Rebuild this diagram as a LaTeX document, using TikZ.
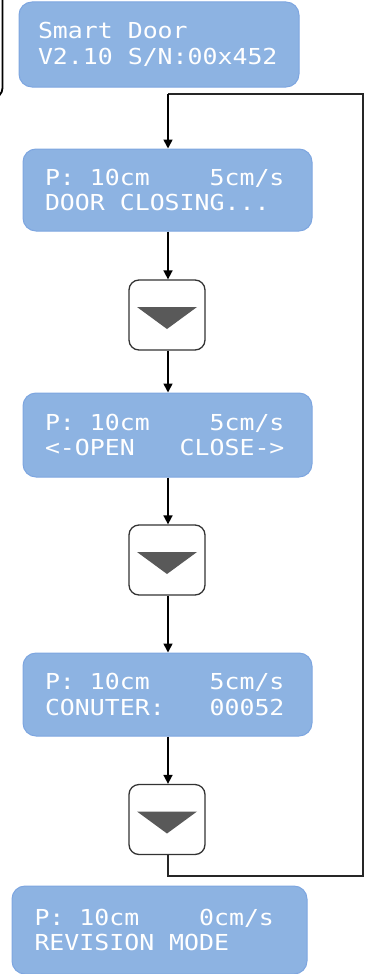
\documentclass[tikz,border=0pt]{standalone}
\usepackage{fontspec}
\newfontfamily\lcdfont[FakeStretch=1.13]{DejaVu Sans Mono}
\newcommand{\ls}{\hspace*{\fontcharwd\font`\0}}
\usetikzlibrary{arrows.meta,calc}
\definecolor{lcdfill}{HTML}{8DB3E2}
\definecolor{lcdline}{HTML}{7EA6E0}
\definecolor{btnline}{HTML}{333333}
\definecolor{trifill}{HTML}{595959}
\tikzset{
  lcd/.style={draw=lcdline, fill=lcdfill, line width=1pt, rounded corners=13pt,
    text=white, font=\lcdfont\fontsize{22}{25.5}\selectfont, align=left,
    inner ysep=0pt, anchor=center},
  btn/.style={draw=btnline, fill=white, line width=1.3pt, rounded corners=10pt,
    minimum width=76pt, minimum height=70pt, inner sep=0pt},
  tri/.style={fill=trifill},
  arr/.style={draw=black, line width=1.7pt, -{Triangle[length=9pt,width=9pt]}},
  loopline/.style={draw=black!85, line width=1.3pt},
  frameline/.style={draw=black, line width=1.8pt, rounded corners=10pt}
}
\begin{document}
\begin{tikzpicture}[x=1pt,y=-1pt]
\useasboundingbox (0,0) rectangle (366,974);
\clip (0,0) rectangle (366,974);
% partial frame at top left
\draw[frameline] (2.5,-5) -- (2.5,98) -- (-12,98);
% LCD boxes
\node[lcd, minimum width=278pt, minimum height=85pt, text width=242pt, inner xsep=19pt] (s1) at (159,44.5)
  {Smart\ls Door\\V2.10\ls S/N:00x452};
\node[lcd, minimum width=289pt, minimum height=82pt, text width=245pt, inner xsep=22pt] (s2) at (167.5,190)
  {P:\ls 10cm\ls\ls\ls\ls 5cm/s\\DOOR\ls CLOSING...};
\node[lcd, minimum width=289pt, minimum height=84pt, text width=245pt, inner xsep=22pt] (s3) at (167.5,435)
  {P:\ls 10cm\ls\ls\ls\ls 5cm/s\\<-OPEN\ls\ls\ls CLOSE->};
\node[lcd, minimum width=289pt, minimum height=83pt, text width=245pt, inner xsep=22pt] (s4) at (167.5,694.5)
  {P:\ls 10cm\ls\ls\ls\ls 5cm/s\\CONUTER:\ls\ls\ls 00052};
\node[lcd, minimum width=295pt, minimum height=88pt, text width=250pt, inner xsep=21pt] (s5) at (159.5,930)
  {P:\ls 10cm\ls\ls\ls\ls 0cm/s\\REVISION\ls MODE};
% buttons
\node[btn] (b1) at (167,315) {};
\node[btn] (b2) at (167,560) {};
\node[btn] (b3) at (167,819.5) {};
\foreach \b in {b1,b2,b3}{
  \fill[tri] ($(\b)+(-30,-8)$) -- ($(\b)+(30,-8)$) -- ($(\b)+(0,14)$) -- cycle;
}
% loop
\coordinate (lt) at (168,94);
\coordinate (rt) at (363,94);
\coordinate (rb) at (363,876);
\coordinate (lb) at (168,876);
\draw[loopline] (b3.south -| lb) -- (lb) -- (rb) -- (rt) -- (lt);
% arrows
\draw[arr] (lt) -- (lt |- s2.north);
\draw[arr] (s2.south -| lt) -- (lt |- b1.north);
\draw[arr] (b1.south -| lt) -- (lt |- s3.north);
\draw[arr] (s3.south -| lt) -- (lt |- b2.north);
\draw[arr] (b2.south -| lt) -- (lt |- s4.north);
\draw[arr] (s4.south -| lt) -- (lt |- b3.north);
\end{tikzpicture}
\end{document}
